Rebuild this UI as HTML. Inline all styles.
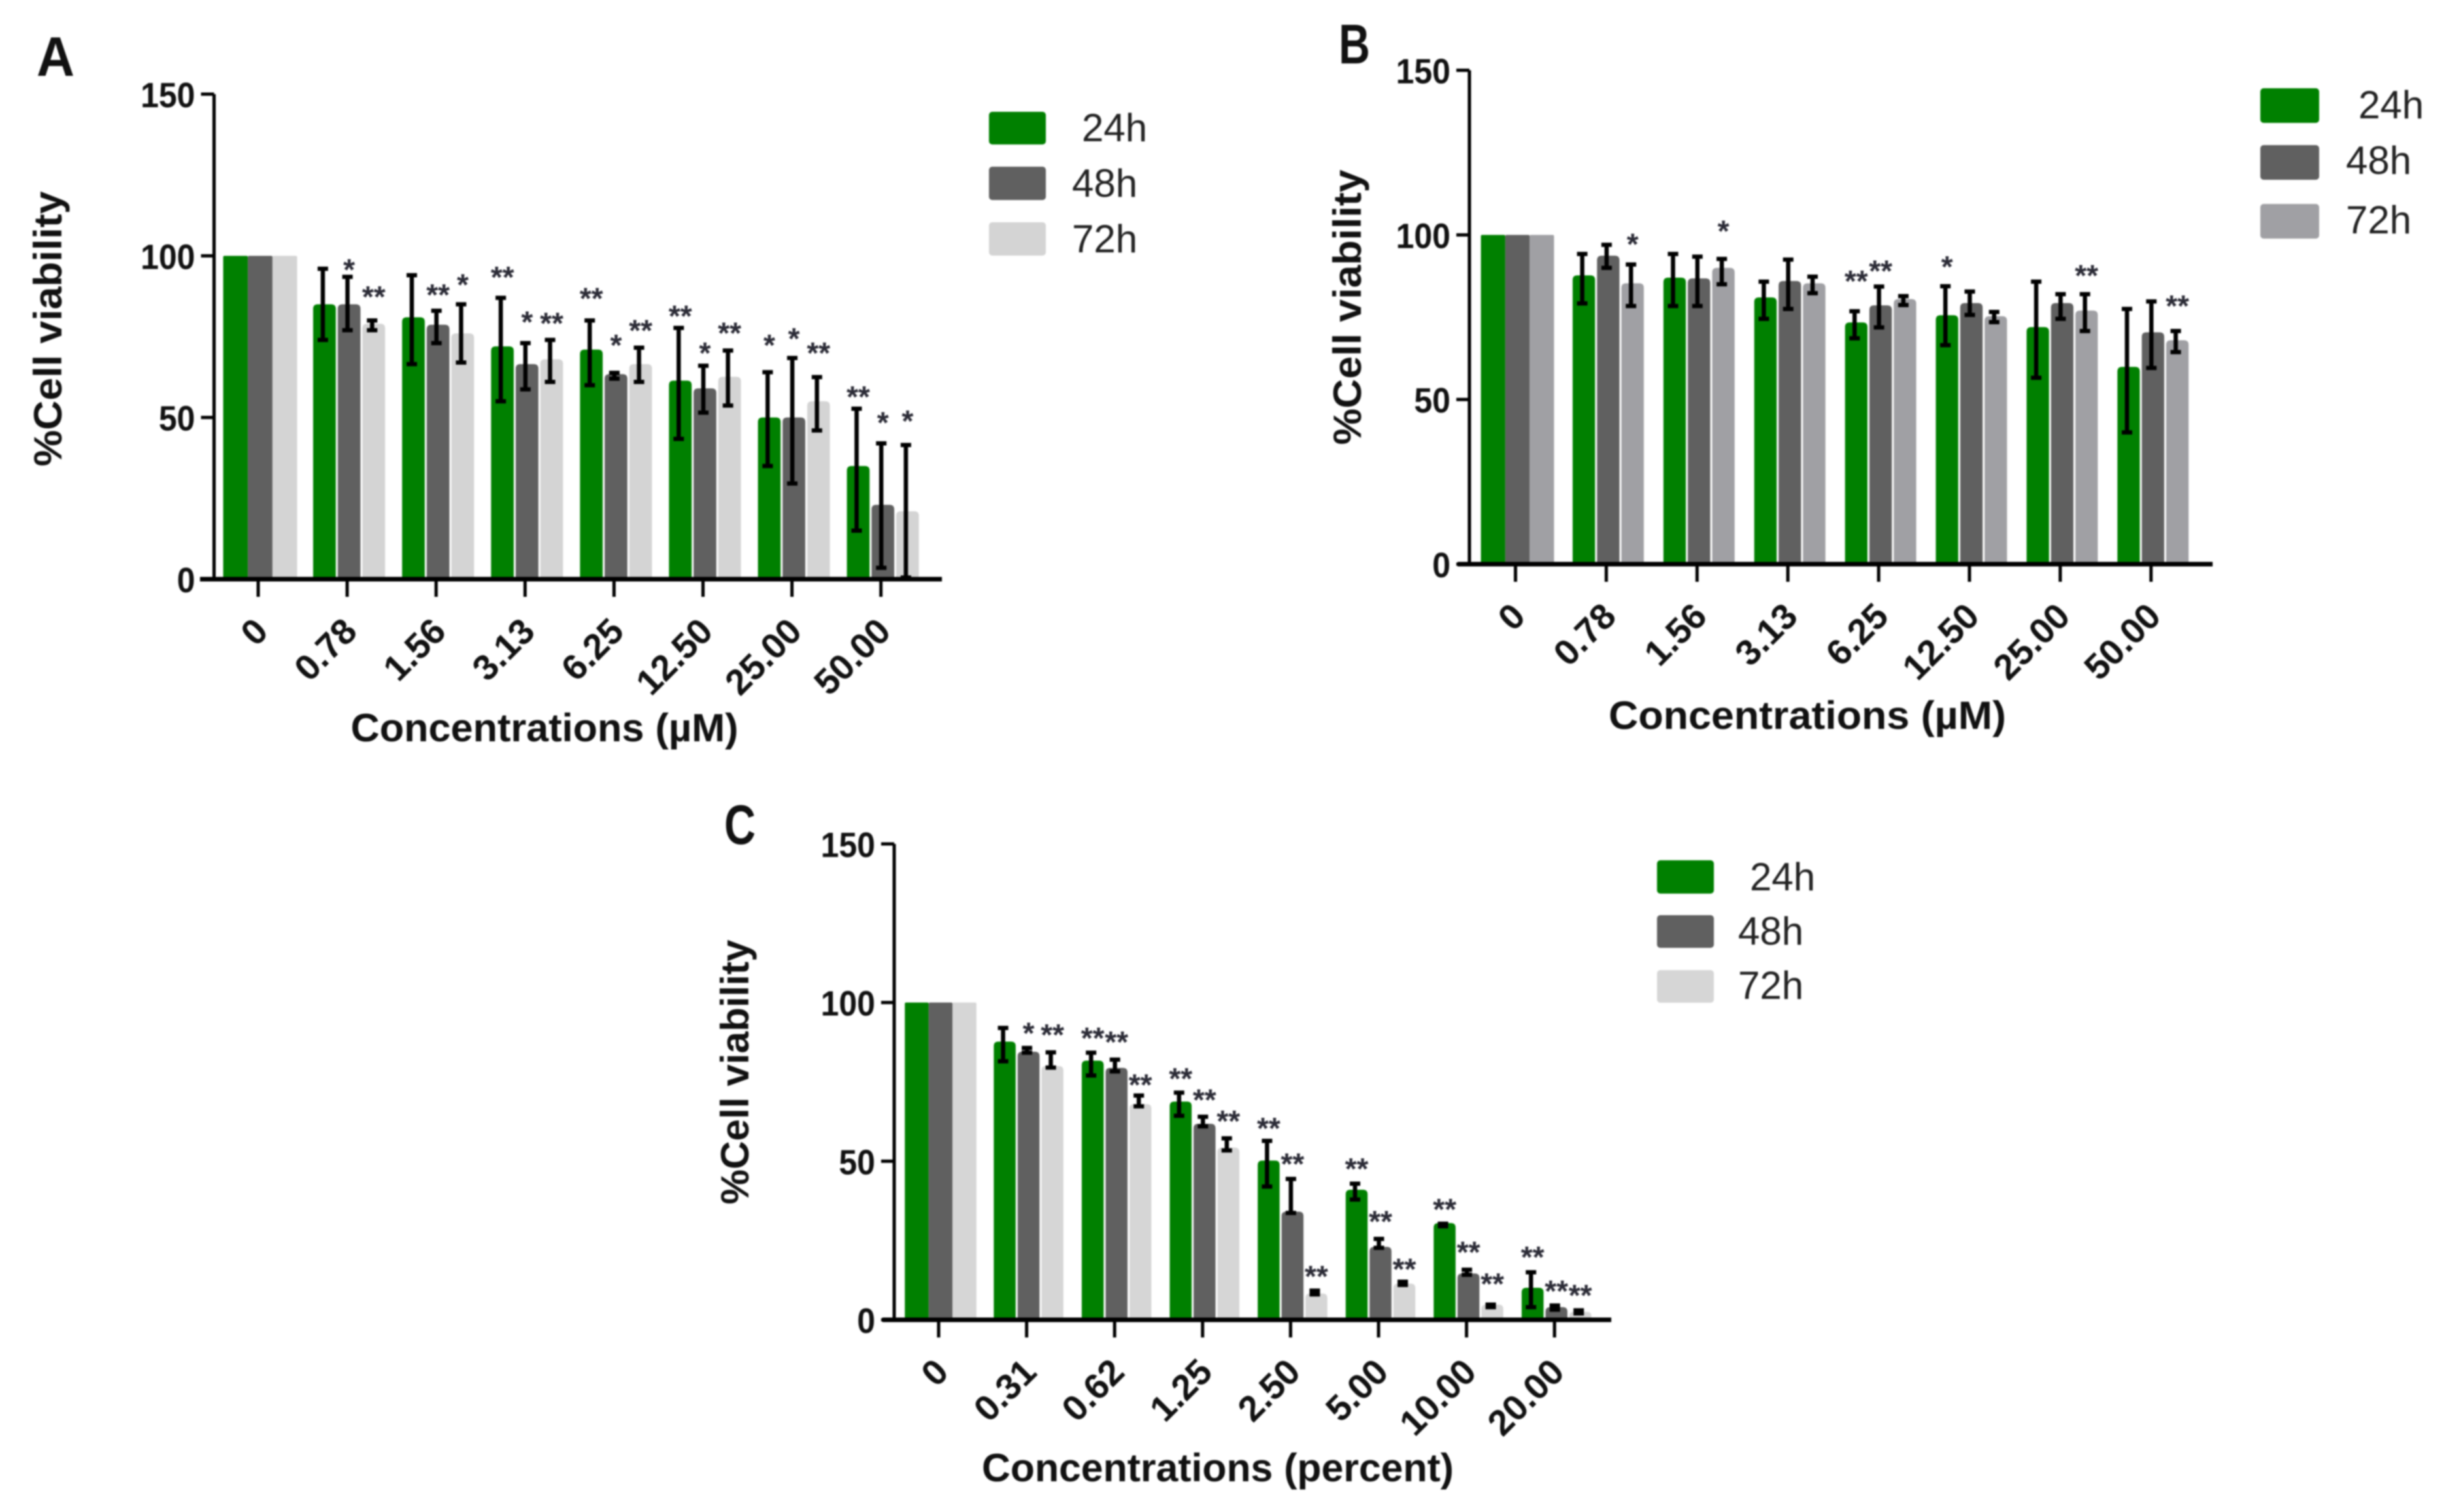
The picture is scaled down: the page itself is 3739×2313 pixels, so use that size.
<!DOCTYPE html>
<html lang="en">
<head>
<meta charset="utf-8">
<title>Cell viability charts</title>
<style>
html,body{margin:0;padding:0;background:#fff;overflow:hidden;}
svg{display:block;filter:blur(1px);}
text{font-family:"Liberation Sans",sans-serif;}
.t{font-weight:700;fill:#111;}
.leg{font-size:60px;fill:#222;}
</style>
</head>
<body>
<svg id="figure" xmlns="http://www.w3.org/2000/svg" width="3739" height="2313" viewBox="0 0 3739 2313">
  <rect width="3739" height="2313" fill="#fff"/>

  <g id="panel-a">
    <text class="t" x="56" y="116" font-size="85" textLength="58" lengthAdjust="spacingAndGlyphs">A</text>
    <text class="t" font-size="60" transform="translate(94 503) rotate(-90)" text-anchor="middle" textLength="421" lengthAdjust="spacingAndGlyphs">%Cell viability</text>
    <text class="t" font-size="60" x="833" y="1134" text-anchor="middle" textLength="593" lengthAdjust="spacingAndGlyphs">Concentrations (µM)</text>
    <g>
      <rect x="1513" y="171" width="87" height="50" rx="5" fill="#008000"/>
      <text class="leg" x="1655" y="216">24h</text>
      <rect x="1513" y="255" width="87" height="51" rx="5" fill="#606060"/>
      <text class="leg" x="1640" y="301">48h</text>
      <rect x="1513" y="340" width="87" height="51" rx="5" fill="#d4d4d4"/>
      <text class="leg" x="1640" y="386">72h</text>
    </g>
  </g>

  <g id="panel-b">
    <text class="t" x="2048" y="97" font-size="85" textLength="48" lengthAdjust="spacingAndGlyphs">B</text>
    <text class="t" font-size="60" transform="translate(2082 470) rotate(-90)" text-anchor="middle" textLength="421" lengthAdjust="spacingAndGlyphs">%Cell viability</text>
    <text class="t" font-size="60" x="2765" y="1115" text-anchor="middle" textLength="608" lengthAdjust="spacingAndGlyphs">Concentrations (µM)</text>
    <g>
      <rect x="3458" y="135" width="90" height="53" rx="5" fill="#008000"/>
      <text class="leg" x="3608" y="181">24h</text>
      <rect x="3458" y="222" width="90" height="53" rx="5" fill="#606060"/>
      <text class="leg" x="3589" y="266">48h</text>
      <rect x="3458" y="312" width="90" height="53" rx="5" fill="#a0a0a4"/>
      <text class="leg" x="3589" y="357">72h</text>
    </g>
  </g>

  <g id="panel-c">
    <text class="t" x="1108" y="1291" font-size="85" textLength="48" lengthAdjust="spacingAndGlyphs">C</text>
    <text class="t" font-size="60" transform="translate(1145 1640) rotate(-90)" text-anchor="middle" textLength="405" lengthAdjust="spacingAndGlyphs">%Cell viability</text>
    <text class="t" font-size="60" x="1863" y="2266" text-anchor="middle" textLength="722" lengthAdjust="spacingAndGlyphs">Concentrations (percent)</text>
    <g>
      <rect x="2535" y="1316" width="87" height="51" rx="5" fill="#008000"/>
      <text class="leg" x="2677" y="1362">24h</text>
      <rect x="2535" y="1400" width="87" height="50" rx="5" fill="#606060"/>
      <text class="leg" x="2659" y="1445">48h</text>
      <rect x="2535" y="1484" width="87" height="50" rx="5" fill="#d6d6d6"/>
      <text class="leg" x="2659" y="1528">72h</text>
    </g>
  </g>
</svg>

<script>
const yTickLabels = [0, 50, 100, 150];
const seriesNames = ['24h', '48h', '72h'];

/* Panel A */
const categoriesA = ['0', '0.78', '1.56', '3.13', '6.25', '12.50', '25.00', '50.00'];
const valuesA24 = [100, 85, 81, 72, 71, 61.4, 50, 35];
const valuesA48 = [100, 85, 78.7, 66.5, 63.4, 59, 50, 23];
const valuesA72 = [100, 79, 76, 68, 66.5, 62.6, 55, 21];
const errHighA24 = [null, 96, 94, 87, 80, 77.7, 64, 52.7];
const errHighA48 = [null, 93.5, 83, 73, 63.8, 66, 68.4, 42];
const errHighA72 = [null, 80, 85, 74, 71.6, 70.7, 62.5, 41.5];
const errLowA24 = [null, 74, 66.5, 55, 60, 43.4, 35, 15];
const errLowA48 = [null, 77, 73, 58.7, 62, 51.5, 29.6, 3.5];
const errLowA72 = [null, 77, 67, 61, 61, 53.7, 46, 0.5];
const starsA24 = ['', '', '', '**', '**', '**', '*', '**'];
const starsA48 = ['', '*', '**', '*', '*', '*', '*', '*'];
const starsA72 = ['', '**', '*', '**', '**', '**', '**', '*'];
const starLevelsA24 = [0, 0, 0, 95, 88.4, 83, 74, 58];
const starLevelsA48 = [0, 97.3, 89.6, 81.2, 74, 71.6, 76, 50];
const starLevelsA72 = [0, 88.9, 92.7, 80.8, 78.5, 77.7, 71.6, 50.5];

/* Panel B */
const categoriesB = ['0', '0.78', '1.56', '3.13', '6.25', '12.50', '25.00', '50.00'];
const valuesB24 = [100, 87.7, 87, 81, 73.4, 75.6, 72, 59.9];
const valuesB48 = [100, 93.7, 86.8, 86, 78.6, 79.3, 79.3, 70.4];
const valuesB72 = [100, 85.3, 90, 85.3, 80.5, 75.3, 77, 68];
const errHighB24 = [null, 94.2, 94.2, 85.8, 76.8, 84.4, 85.8, 77.5];
const errHighB48 = [null, 97, 93.4, 92.5, 84.3, 82.8, 82, 79.8];
const errHighB72 = [null, 91, 92.7, 87.3, 81.4, 76.6, 82, 70.8];
const errLowB24 = [null, 79.2, 78.4, 74.5, 68.6, 66.5, 56.6, 40];
const errLowB48 = [null, 90, 78.4, 77.5, 71.9, 75.7, 74.5, 59.6];
const errLowB72 = [null, 78.4, 85, 82.3, 78.7, 73.5, 70.8, 64.4];
const starsB24 = ['', '', '', '', '**', '*', '', ''];
const starsB48 = ['', '', '', '', '**', '', '', ''];
const starsB72 = ['', '*', '*', '', '', '', '**', '**'];
const starLevelsB24 = [0, 0, 0, 0, 87.6, 91.9, 0, 0];
const starLevelsB48 = [0, 0, 0, 0, 90.6, 0, 0, 0];
const starLevelsB72 = [0, 98.8, 102.7, 0, 0, 0, 89.2, 80];

/* Panel C */
const categoriesC = ['0', '0.31', '0.62', '1.25', '2.50', '5.00', '10.00', '20.00'];
const valuesC24 = [100, 87.7, 81.7, 68.8, 50.2, 41, 30.5, 10.1];
const valuesC48 = [100, 84.5, 79.4, 61.8, 34.1, 23, 14.6, 4];
const valuesC72 = [100, 80, 68, 54.3, 8.3, 11.4, 4.8, 2.5];
const errHighC24 = [null, 92, 84.2, 71.6, 56.4, 42.9, 30.3, 15];
const errHighC48 = [null, 85.7, 82, 64, 44.4, 25.5, 15.8, 4.5];
const errHighC72 = [null, 84.3, 70.7, 57.2, 9.2, 12, 4.8, 3];
const errLowC24 = [null, 81.5, 77, 64.3, 42, 37.9, 29.5, 4];
const errLowC48 = [null, 84.2, 78.3, 61, 33.7, 22.7, 14.2, 3.2];
const errLowC72 = [null, 79.5, 67.3, 53.4, 8, 11, 4, 2];
const starsC24 = ['', '', '**', '**', '**', '**', '**', '**'];
const starsC48 = ['', '*', '**', '**', '**', '**', '**', '**'];
const starsC72 = ['', '**', '**', '**', '**', '**', '**', '**'];
const starLevelsC24 = [0, 0, 90.5, 77.7, 62, 49.2, 36.5, 21.4];
const starLevelsC48 = [0, 92, 89.2, 71, 50.8, 32.7, 23, 10.7];
const starLevelsC72 = [0, 91.5, 75.7, 64.3, 15.4, 17.6, 13, 9.4];

const NS = 'http://www.w3.org/2000/svg';

function mk(parent, tag, attrs, txt) {
  const el = document.createElementNS(NS, tag);
  for (const k in attrs) el.setAttribute(k, attrs[k]);
  if (txt !== undefined) el.textContent = txt;
  parent.appendChild(el);
  return el;
}

function drawPanel(host, layout, categories, series) {
  const g = document.getElementById(host);
  const yScale = function (v) { return layout.y0 + (layout.y150 - layout.y0) * v / 150; };
  const groupCenter = function (i) { return layout.firstCenter + i * layout.step; };
  const barCenter = function (i, s) { return groupCenter(i) + (s - 1) * layout.barW; };

  series.forEach(function (sr, s) {
    sr.values.forEach(function (v, i) {
      const w = i === 0 ? layout.barW : layout.barW - 3;
      const left = barCenter(i, s) - w / 2;
      const top = yScale(v);
      const r = i === 0 ? 2 : Math.min(7, (yScale(0) - top) / 2);
      const bar = mk(g, 'path', {
        d: 'M' + left + ' ' + yScale(0) + 'V' + (top + r) +
           'Q' + left + ' ' + top + ' ' + (left + r) + ' ' + top +
           'H' + (left + w - r) +
           'Q' + (left + w) + ' ' + top + ' ' + (left + w) + ' ' + (top + r) +
           'V' + yScale(0) + 'Z',
        fill: sr.color
      });
      
      
    });
  });

  series.forEach(function (sr, s) {
    sr.values.forEach(function (v, i) {
      const bc = barCenter(i, s);
      const cx = bc - 2.5;
      if (sr.hi[i] !== null) {
        const path = 'M' + cx + ' ' + yScale(sr.hi[i]) + 'V' + yScale(sr.lo[i]) +
          'M' + (cx - 8) + ' ' + yScale(sr.hi[i]) + 'H' + (cx + 8) +
          'M' + (cx - 8) + ' ' + yScale(sr.lo[i]) + 'H' + (cx + 8);
        const err = mk(g, 'path', { d: path, stroke: '#000', 'stroke-width': 6.5, fill: 'none' });
        
        
      }
      if (sr.stars[i]) {
        const star = mk(g, 'text', {
          x: bc,
          y: yScale(sr.levels[i]) + 24,
          'text-anchor': 'middle',
          'font-size': 46,
          'font-weight': 700,
          fill: '#2b2b36'
        }, sr.stars[i]);
        
        
      }
    });
  });

  const yLine = mk(g, 'path', {
    d: 'M' + layout.axisX + ' ' + yScale(150) + 'V' + yScale(0),
    stroke: '#000', 'stroke-width': 5, fill: 'none'
  });
  
  

  const xLine = mk(g, 'path', {
    d: 'M' + layout.xStart + ' ' + yScale(0) + 'H' + layout.xEnd,
    stroke: '#000', 'stroke-width': 7, fill: 'none'
  });
  
  

  yTickLabels.forEach(function (t) {
    const mark = mk(g, 'path', {
      d: 'M' + (layout.axisX - 20) + ' ' + yScale(t) + 'H' + layout.axisX,
      stroke: '#000', 'stroke-width': 5
    });
    
    
    const lab = mk(g, 'text', {
      x: layout.axisX - 29,
      y: yScale(t) + 20,
      'text-anchor': 'end',
      'font-size': 54,
      'font-weight': 700,
      textLength: String(t).length * 27.8,
      lengthAdjust: 'spacingAndGlyphs',
      fill: '#111'
    }, t);
    
    
  });

  categories.forEach(function (c, i) {
    const tx = groupCenter(i) - 3;
    const mark = mk(g, 'path', {
      d: 'M' + tx + ' ' + yScale(0) + 'v27',
      stroke: '#000', 'stroke-width': 5
    });
    
    
    const ax = tx + 18;
    const ay = yScale(0) + 83;
    const lab = mk(g, 'text', {
      x: ax,
      y: ay,
      transform: 'rotate(-45 ' + ax + ' ' + ay + ')',
      'text-anchor': 'end',
      'font-size': 55,
      'font-weight': 700,
      fill: '#111'
    }, c);
    
    
  });
}

function bundle(values, hi, lo, stars, levels, color, name) {
  return { values: values, hi: hi, lo: lo, stars: stars, levels: levels, color: color, name: name };
}

drawPanel('panel-a',
  { y0: 886, y150: 144, axisX: 327.5, xStart: 306, xEnd: 1441, firstCenter: 398, step: 136.1, barW: 37.7 },
  categoriesA,
  [
    bundle(valuesA24, errHighA24, errLowA24, starsA24, starLevelsA24, '#008000', seriesNames[0]),
    bundle(valuesA48, errHighA48, errLowA48, starsA48, starLevelsA48, '#606060', seriesNames[1]),
    bundle(valuesA72, errHighA72, errLowA72, starsA72, starLevelsA72, '#d4d4d4', seriesNames[2])
  ]);

drawPanel('panel-b',
  { y0: 863, y150: 107.5, axisX: 2248, xStart: 2230, xEnd: 3385, firstCenter: 2321.5, step: 138.9, barW: 37.3 },
  categoriesB,
  [
    bundle(valuesB24, errHighB24, errLowB24, starsB24, starLevelsB24, '#008000', seriesNames[0]),
    bundle(valuesB48, errHighB48, errLowB48, starsB48, starLevelsB48, '#606060', seriesNames[1]),
    bundle(valuesB72, errHighB72, errLowB72, starsB72, starLevelsB72, '#a0a0a4', seriesNames[2])
  ]);

drawPanel('panel-c',
  { y0: 2019, y150: 1291, axisX: 1368, xStart: 1350, xEnd: 2465, firstCenter: 1439, step: 134.6, barW: 36.5 },
  categoriesC,
  [
    bundle(valuesC24, errHighC24, errLowC24, starsC24, starLevelsC24, '#008000', seriesNames[0]),
    bundle(valuesC48, errHighC48, errLowC48, starsC48, starLevelsC48, '#606060', seriesNames[1]),
    bundle(valuesC72, errHighC72, errLowC72, starsC72, starLevelsC72, '#d6d6d6', seriesNames[2])
  ]);
</script>
</body>
</html>
